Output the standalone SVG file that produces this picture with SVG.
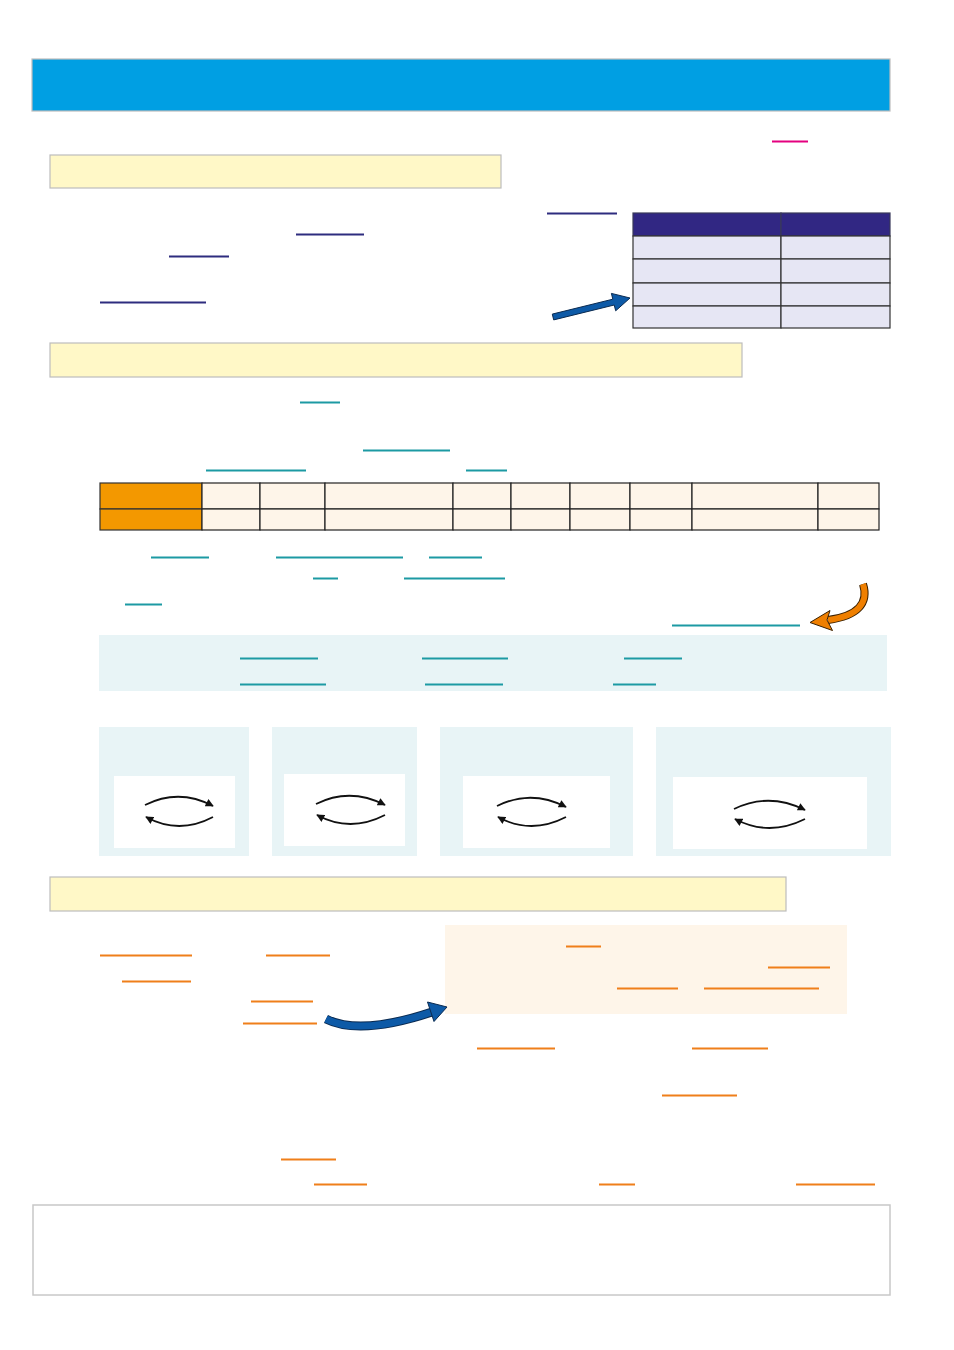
<svg xmlns="http://www.w3.org/2000/svg" width="954" height="1350" viewBox="0 0 954 1350">
<style>
.yel{fill:#FFF8C7;stroke:#BDBDBD;stroke-width:1.2}
.ul{stroke-width:2;fill:none}
.pu{stroke:#2E2C7F}
.te{stroke:#1C9AA3}
.or{stroke:#EF7F1A}
.pk{stroke:#E4007F}
.th{fill:#312783;stroke:#3a3a5a;stroke-width:1.2}
.tc{fill:#E6E6F4;stroke:#333;stroke-width:1.2}
.oc{fill:#FEF5E9;stroke:#222;stroke-width:1.2}
.oh{fill:#F39800;stroke:#333;stroke-width:1.2}
.pan{fill:#E8F4F6}
.inner{fill:#FFFFFF}
.arc{fill:none;stroke:#111;stroke-width:1.8}
</style>
<defs>
<marker id="ah" viewBox="0 0 10 10" refX="9" refY="5" markerWidth="9" markerHeight="8" orient="auto" markerUnits="userSpaceOnUse">
<path d="M0,0 L10,5 L0,10 Z" fill="#111"/>
</marker>
</defs>
<rect width="954" height="1350" fill="#FFFFFF"/>
<g id="header"><rect x="32" y="59" width="858" height="52" fill="#009FE3" stroke="#BDBDBD" stroke-width="1.2"/></g>
<g id="pink-mark"><line class="ul pk" x1="772" y1="141.5" x2="808" y2="141.5"/></g>
<g id="section1"><rect class="yel" x="50" y="155" width="451" height="33"/></g>
<g id="section1-lines">
<line class="ul pu" x1="547" y1="213.5" x2="617" y2="213.5"/>
<line class="ul pu" x1="296" y1="234.5" x2="364" y2="234.5"/>
<line class="ul pu" x1="169" y1="256.5" x2="229" y2="256.5"/>
<line class="ul pu" x1="100" y1="302.5" x2="206" y2="302.5"/>
</g>
<g id="table1">
<rect class="th" x="633" y="213" width="148" height="23"/>
<rect class="th" x="781" y="213" width="109" height="23"/>
<rect class="tc" x="633" y="236" width="148" height="23"/>
<rect class="tc" x="781" y="236" width="109" height="23"/>
<rect class="tc" x="633" y="259" width="148" height="24"/>
<rect class="tc" x="781" y="259" width="109" height="24"/>
<rect class="tc" x="633" y="283" width="148" height="23"/>
<rect class="tc" x="781" y="283" width="109" height="23"/>
<rect class="tc" x="633" y="306" width="148" height="22"/>
<rect class="tc" x="781" y="306" width="109" height="22"/>
</g>
<g id="section2"><rect class="yel" x="50" y="343" width="692" height="34"/></g>
<g id="section2-lines">
<line class="ul te" x1="300" y1="402.5" x2="340" y2="402.5"/>
<line class="ul te" x1="363" y1="450.5" x2="450" y2="450.5"/>
<line class="ul te" x1="206" y1="470.5" x2="306" y2="470.5"/>
<line class="ul te" x1="466" y1="470.5" x2="507" y2="470.5"/>
<line class="ul te" x1="151" y1="557.5" x2="209" y2="557.5"/>
<line class="ul te" x1="276" y1="557.5" x2="403" y2="557.5"/>
<line class="ul te" x1="429" y1="557.5" x2="482" y2="557.5"/>
<line class="ul te" x1="313" y1="578.5" x2="338" y2="578.5"/>
<line class="ul te" x1="404" y1="578.5" x2="505" y2="578.5"/>
<line class="ul te" x1="125" y1="604.5" x2="162" y2="604.5"/>
<line class="ul te" x1="672" y1="625.5" x2="800" y2="625.5"/>
</g>
<g id="table2">
<rect class="oh" x="100" y="483" width="102" height="26"/>
<rect class="oh" x="100" y="509" width="102" height="21"/>
<rect class="oc" x="202" y="483" width="58" height="26"/><rect class="oc" x="202" y="509" width="58" height="21"/>
<rect class="oc" x="260" y="483" width="65" height="26"/><rect class="oc" x="260" y="509" width="65" height="21"/>
<rect class="oc" x="325" y="483" width="128" height="26"/><rect class="oc" x="325" y="509" width="128" height="21"/>
<rect class="oc" x="453" y="483" width="58" height="26"/><rect class="oc" x="453" y="509" width="58" height="21"/>
<rect class="oc" x="511" y="483" width="59" height="26"/><rect class="oc" x="511" y="509" width="59" height="21"/>
<rect class="oc" x="570" y="483" width="60" height="26"/><rect class="oc" x="570" y="509" width="60" height="21"/>
<rect class="oc" x="630" y="483" width="62" height="26"/><rect class="oc" x="630" y="509" width="62" height="21"/>
<rect class="oc" x="692" y="483" width="126" height="26"/><rect class="oc" x="692" y="509" width="126" height="21"/>
<rect class="oc" x="818" y="483" width="61" height="26"/><rect class="oc" x="818" y="509" width="61" height="21"/>
</g>
<g id="info-band">
<rect class="pan" x="99" y="635" width="788" height="56"/>
<line class="ul te" x1="240" y1="658.5" x2="318" y2="658.5"/>
<line class="ul te" x1="422" y1="658.5" x2="508" y2="658.5"/>
<line class="ul te" x1="624" y1="658.5" x2="682" y2="658.5"/>
<line class="ul te" x1="240" y1="684.5" x2="326" y2="684.5"/>
<line class="ul te" x1="425" y1="684.5" x2="503" y2="684.5"/>
<line class="ul te" x1="613" y1="684.5" x2="656" y2="684.5"/>
</g>
<g id="panel1"><rect class="pan" x="99" y="727" width="150" height="129"/><rect class="inner" x="114" y="776" width="121" height="72"/></g>
<g id="panel2"><rect class="pan" x="272" y="727" width="145" height="129"/><rect class="inner" x="284" y="774" width="121" height="72"/></g>
<g id="panel3"><rect class="pan" x="440" y="727" width="193" height="129"/><rect class="inner" x="463" y="776" width="147" height="72"/></g>
<g id="panel4"><rect class="pan" x="656" y="727" width="235" height="129"/><rect class="inner" x="673" y="777" width="194" height="72"/></g>
<g id="section3"><rect class="yel" x="50" y="877" width="736" height="34"/></g>
<g id="note-box">
<rect x="445" y="925" width="402" height="89" fill="#FEF5E9"/>
<line class="ul or" x1="566" y1="946.5" x2="601" y2="946.5"/>
<line class="ul or" x1="768" y1="967.5" x2="830" y2="967.5"/>
<line class="ul or" x1="617" y1="988.5" x2="678" y2="988.5"/>
<line class="ul or" x1="704" y1="988.5" x2="819" y2="988.5"/>
</g>
<g id="section3-lines">
<line class="ul or" x1="100" y1="955.5" x2="192" y2="955.5"/>
<line class="ul or" x1="266" y1="955.5" x2="330" y2="955.5"/>
<line class="ul or" x1="122" y1="981.5" x2="191" y2="981.5"/>
<line class="ul or" x1="251" y1="1001.5" x2="313" y2="1001.5"/>
<line class="ul or" x1="243" y1="1023.5" x2="317" y2="1023.5"/>
<line class="ul or" x1="477" y1="1048.5" x2="555" y2="1048.5"/>
<line class="ul or" x1="692" y1="1048.5" x2="768" y2="1048.5"/>
<line class="ul or" x1="662" y1="1095.5" x2="737" y2="1095.5"/>
<line class="ul or" x1="281" y1="1159.5" x2="336" y2="1159.5"/>
<line class="ul or" x1="314" y1="1184.5" x2="367" y2="1184.5"/>
<line class="ul or" x1="599" y1="1184.5" x2="635" y2="1184.5"/>
<line class="ul or" x1="796" y1="1184.5" x2="875" y2="1184.5"/>
</g>
<g id="footer-box"><rect x="33" y="1205" width="857" height="90" fill="#FFFFFF" stroke="#C8C8C8" stroke-width="1.5"/></g>
<g id="connectors">
<path d="M552.3,314.1 L612.8,299.2 L611.4,293.4 L630,298 L615.7,310.8 L614.2,305 L553.7,319.9 Z" fill="#0D5AA7" stroke="#0A2A50" stroke-width="1"/>
<path d="M863,584 C869,603 858,616 828,620" fill="none" stroke="#3A2000" stroke-width="8"/>
<path d="M863,584 C869,603 858,616 828,620" fill="none" stroke="#EF7F00" stroke-width="6"/>
<path d="M810,622.5 L830,610.5 L827,620 L832.5,630.5 Z" fill="#EF7F00" stroke="#3A2000" stroke-width="1"/>
<path d="M326,1019 Q360,1036 432,1012" fill="none" stroke="#0A2A50" stroke-width="9"/>
<path d="M326,1019 Q360,1036 432,1012" fill="none" stroke="#0D5AA7" stroke-width="7"/>
<path d="M447,1007 L427.5,1002 L434,1021.5 Z" fill="#0D5AA7" stroke="#0A2A50" stroke-width="1"/>
<path class="arc" d="M145,805 Q179,788 213,806" marker-end="url(#ah)"/>
<path class="arc" d="M213,817 Q179,835 146,817" marker-end="url(#ah)"/>
<path class="arc" d="M316,804 Q350,787 385,805" marker-end="url(#ah)"/>
<path class="arc" d="M385,815 Q350,833 317,815" marker-end="url(#ah)"/>
<path class="arc" d="M497,806 Q531,789 566,807" marker-end="url(#ah)"/>
<path class="arc" d="M566,817 Q531,835 498,817" marker-end="url(#ah)"/>
<path class="arc" d="M734,809 Q769,792 805,810" marker-end="url(#ah)"/>
<path class="arc" d="M805,819 Q769,837 735,819" marker-end="url(#ah)"/>
</g>
</svg>
